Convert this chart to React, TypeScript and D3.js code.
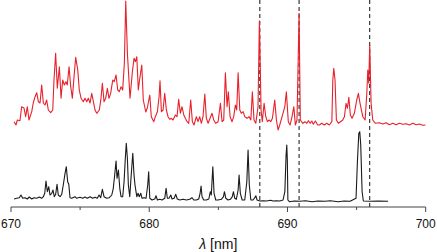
import React from "react";
import * as d3 from "d3";

// Red (upper) spectrum: wavelength [nm] and offset intensity [a.u.]
const redWl = [670.22,670.36,670.46,670.65,670.77,670.94,671.06,671.18,671.30,671.50,671.61,671.74,671.86,671.98,672.10,672.22,672.34,672.46,672.58,672.70,672.87,673.02,673.11,673.23,673.35,673.50,673.62,673.74,673.86,673.98,674.07,674.20,674.32,674.44,674.56,674.68,674.83,674.94,675.07,675.23,675.35,675.48,675.59,675.72,675.84,675.96,676.08,676.20,676.39,676.51,676.61,676.73,676.85,676.97,677.09,677.21,677.36,677.47,677.60,677.72,677.84,677.96,678.08,678.20,678.30,678.42,678.61,678.78,678.90,679.00,679.10,679.21,679.30,679.46,679.57,679.75,679.86,680.04,680.15,680.33,680.44,680.59,680.71,680.78,680.88,681.00,681.12,681.24,681.36,681.48,681.60,681.72,681.89,682.01,682.13,682.25,682.37,682.50,682.61,682.74,682.86,683.00,683.12,683.24,683.41,683.53,683.65,683.77,683.89,684.02,684.13,684.26,684.40,684.54,684.67,684.81,684.98,685.15,685.27,685.39,685.51,685.63,685.72,685.85,685.99,686.11,686.23,686.33,686.43,686.55,686.66,686.79,686.91,687.08,687.22,687.35,687.46,687.58,687.71,687.87,687.97,688.09,688.18,688.31,688.43,688.55,688.67,688.79,688.91,689.08,689.20,689.32,689.44,689.61,689.81,689.92,690.06,690.19,690.33,690.46,690.57,690.69,690.84,690.93,691.11,691.27,691.40,691.51,691.64,691.76,691.87,692.02,692.19,692.31,692.48,692.67,692.84,693.03,693.21,693.28,693.35,693.44,693.54,693.68,693.83,694.00,694.12,694.24,694.34,694.44,694.55,694.67,694.84,695.01,695.13,695.25,695.45,695.62,695.74,695.81,695.88,695.95,696.05,696.17,696.36,696.65,696.90,697.14,697.37,697.62,697.86,698.10,698.34,698.58,698.82,699.07,699.31,699.54,699.79,699.98];
const redI = [85.3,82,87,86.3,100.3,99,90.3,100.3,87,95.3,104,110.3,114.3,105.3,104,122,104,102,107,97,94.3,97,127,153.7,118.7,140.3,108.7,127,122,125.3,122,140.3,120.3,108.7,130.3,149.7,137,117,108.7,105.3,108.7,105.3,108.7,104,113.7,105.3,97,93.7,97,108.7,123.7,105.3,108.7,118.7,108.7,113.7,127,125.3,132,117,115.3,120.3,117,143.7,206,153.7,108.7,135.3,148.7,145.3,150.3,117,127,142,107,95,99,112,90.3,85.3,90.3,95.3,110.3,126.3,95.3,97,113.7,97,90.3,87.7,88.7,87,92,90.3,107.7,93.7,100.3,92,88.7,85.3,83.7,107,85.3,82,90.3,85.3,90.3,83.7,90.3,113,88.7,83.7,88.7,93.7,87,83.7,85.3,103.7,85.3,87,134.3,100.3,115.3,90.3,85.3,90.3,102,97,134.3,97,93.7,95.3,90.3,88.7,90.3,87,115.3,87,83.7,100.3,186.3,97,85.3,103.7,90.3,85.3,87,85.3,88.7,107,87,77,82,90.3,100.3,115.3,85.3,82,90.3,100.3,82,87,193.7,87,83.7,85.3,83.7,86.3,83.7,86,82.7,86,82,82,83.7,82,83.7,82,85.3,127,138.7,127,87,83.7,85.3,87,90.3,103.7,98.7,109.7,92,88.7,93.7,107,113.7,103.7,90.3,87,113.7,137,123.7,162,103.7,87,83.7,84.3,83,84.3,82.3,83.7,82.3,83.7,82.7,83.3,82,83.7,82.3,83,81.7,82];

// Black (lower) spectrum
const blackWl = [670.22,670.41,670.60,670.72,670.85,671.01,671.18,671.32,671.50,671.66,671.86,672.05,672.22,672.34,672.44,672.53,672.63,672.73,672.82,672.95,673.04,673.13,673.23,673.33,673.42,673.55,673.67,673.78,673.91,674.00,674.10,674.18,674.27,674.39,674.63,674.75,674.99,675.19,675.35,675.52,675.72,675.91,676.08,676.24,676.37,676.49,676.61,676.73,676.92,677.11,677.29,677.40,677.50,677.60,677.67,677.77,677.87,677.96,678.08,678.18,678.27,678.34,678.42,678.49,678.59,678.68,678.81,678.90,678.97,679.10,679.19,679.28,679.39,679.48,679.62,679.77,679.89,679.96,680.04,680.20,680.40,680.49,680.59,680.76,680.93,681.12,681.22,681.31,681.43,681.56,681.65,681.80,681.92,682.03,682.21,682.45,682.69,682.93,683.10,683.22,683.41,683.58,683.68,683.75,683.82,683.94,684.13,684.31,684.42,684.49,684.60,684.69,684.81,684.98,685.22,685.37,685.44,685.54,685.70,685.87,686.01,686.09,686.19,686.30,686.43,686.50,686.59,686.72,686.91,687.06,687.15,687.24,687.35,687.51,687.64,687.71,687.80,688.00,688.24,688.47,688.79,688.96,689.20,689.44,689.68,689.81,689.90,689.95,689.99,690.03,690.14,690.50,690.91,691.30,691.78,692.20,692.72,693.10,693.66,694.10,694.53,694.96,695.06,695.16,695.23,695.30,695.40,695.49,695.98,696.56,697.28];
const blackI = [8,8.7,9.3,12,8.7,9.3,8,10,8,9.3,8.7,10,8.7,10.3,13.7,26,15.3,20.3,12,13.7,17,10.3,12.7,22.7,12,10.3,12.7,22,33.7,40.3,25.3,22.7,9.3,8.7,10.3,8.7,9.7,8.7,10,8.7,10.3,8.7,9.7,8.7,12,9.3,17.7,10.3,8.7,9.3,12,18.7,32,46,28.7,37,18.7,10.3,10.3,25.3,48.7,63.7,48.7,22,10.3,28.7,53.7,32,22,10.3,13.7,10.3,13.7,8.7,9.3,8.7,22,35.3,8.7,7,8,11.3,7,7.7,7,8.7,18.7,8.7,8.7,12,8,8.7,12.7,8,7,7.7,7,7.7,9.3,7,7,8,13.7,21,10.3,7,7,8,15.3,12,40.3,13.7,7,7,7.7,10.3,15.3,8.7,7,7.7,10.3,15.3,8.7,7.7,17,32,13.7,7,7,25.3,57,22,7,7,9.3,11.3,7,6,6.3,6,6.7,6,6.3,6,7,15.3,52,62,47,7,5.3,6,5.7,6.3,5.3,6,5.7,6.2,5.3,6,5.7,8.7,45.3,73.7,75.3,62,15.3,6,5.7,6,5.7];

// Reference lines (nm)
const markerWl = [688.0, 690.84, 695.95];

// Axis ticks
const majorTicks = [670, 680, 690, 700];
const minorTicks = [675, 685, 695];
const xLabel = "[nm]";

export default function App() {
  const W = 437, H = 252;
  const x = d3.scaleLinear().domain([670, 700]).range([11, 425.7]);
  const y = d3.scaleLinear().domain([0, 207]).range([207, 0]);
  const axisY = y(0);

  const line = d3.line<[number, number]>().x(d => x(d[0])).y(d => y(d[1]));
  const redPts = redWl.map((w, i) => [w, redI[i]] as [number, number]);
  const blackPts = blackWl.map((w, i) => [w, blackI[i]] as [number, number]);

  return (
    <svg width={W} height={H} style={{ position: "absolute", left: 0, top: 0, background: "#fff" }}
      fontFamily="'Liberation Sans', Arial, Helvetica, sans-serif">
      {markerWl.map(m => (
        <line key={m} x1={x(m)} x2={x(m)} y1={0} y2={axisY} stroke="#111" strokeWidth={1} strokeDasharray="4,3" />
      ))}
      <path d={line(redPts) || ""} fill="none" stroke="#e8202a" strokeWidth={1.1} strokeLinejoin="round" />
      <path d={line(blackPts) || ""} fill="none" stroke="#1a1a1a" strokeWidth={1.1} strokeLinejoin="round" />
      <line x1={x(670)} x2={x(700)} y1={axisY} y2={axisY} stroke="#444" strokeWidth={1} />
      {majorTicks.map(t => (
        <g key={t}>
          <line x1={x(t)} x2={x(t)} y1={axisY} y2={axisY + 5} stroke="#444" strokeWidth={1} />
          <text x={x(t)} y={227.5} textAnchor="middle" fontSize={12} fill="#111">{t}</text>
        </g>
      ))}
      {minorTicks.map(t => (
        <line key={t} x1={x(t)} x2={x(t)} y1={axisY} y2={axisY + 3} stroke="#444" strokeWidth={1} />
      ))}
      <text x={(x(670) + x(700)) / 2} y={248.5} textAnchor="middle" fontSize={14} fill="#111">
        <tspan fontStyle="italic">λ</tspan> {xLabel}
      </text>
    </svg>
  );
}
